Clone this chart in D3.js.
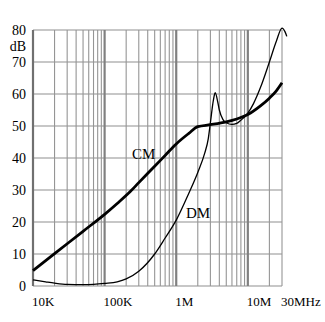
<!DOCTYPE html>
<html><head><meta charset="utf-8">
<script src="https://cdn.jsdelivr.net/npm/d3@7"></script>
<style>body{margin:0;background:#fff}svg{display:block}</style>
</head><body>
<script>
// Frequencies (Hz) and attenuation (dB)
const cmFreq = [1e4, 2e4, 5e4, 1e5, 1.5e5, 2.3e5, 3e5, 5e5, 7e5, 1e6, 1.5e6, 2e6, 3e6, 5e6, 7e6, 1e7, 1.5e7, 2e7, 2.5e7, 3e7];
const cmDb   = [4.8, 10.1, 17.1, 22.4, 25.8, 29.6, 32.3, 37.4, 40.8, 44.4, 47.7, 49.8, 50.4, 51.3, 52.2, 53.6, 56.3, 58.7, 61.0, 63.5];
const dmFreq = [1e4, 1.5e4, 2e4, 3e4, 5e4, 7e4, 1e5, 1.5e5, 2e5, 3e5, 5e5, 7e5, 1e6, 1.5e6, 2e6, 2.5e6, 2.8e6, 3e6, 3.3e6, 3.5e6, 3.8e6, 4e6, 4.5e6, 5e6, 6e6, 7e6, 8e6, 1e7, 1.2e7, 1.5e7, 2e7, 2.5e7, 3e7, 3.3e7, 3.5e7];
const dmDb   = [1.9, 1.3, 0.9, 0.5, 0.4, 0.5, 0.8, 1.3, 2.2, 4.6, 10, 15, 20.6, 29, 35.5, 41.5, 46, 51, 58, 60.4, 57.5, 55, 52, 51, 50.5, 50.8, 51.8, 54, 57, 62, 70, 76.5, 80.6, 79.5, 78];
const yTicks = [0, 10, 20, 30, 40, 50, 60, 70, 80];
const xTickVals = [1e4, 1e5, 1e6, 1e7, 3e7];
const xTickLabels = ["10K", "100K", "1M", "10M", "30MHz"];
const seriesLabels = ["CM", "DM"];

const W = 325, H = 322;
const svg = d3.select("body").append("svg").attr("width", W).attr("height", H);
const x = d3.scaleLog().domain([1e4, 3e7]).range([33, 282]);
const y = d3.scaleLinear().domain([0, 80]).range([286, 30]);

// grid
const minor = [];
for (let d = 1e4; d < 3e7; d *= 10) for (let k = 1; k <= 9; k++) { const v = d * k; if (v <= 3e7) minor.push(v); }
const g = svg.append("g");
g.selectAll("line.h").data(yTicks).join("line")
  .attr("x1", x(1e4)).attr("x2", x(3e7)).attr("y1", d => y(d)).attr("y2", d => y(d))
  .attr("stroke", "#8f8f8f").attr("stroke-width", 1);
g.selectAll("line.v").data(minor).join("line")
  .attr("x1", d => x(d)).attr("x2", d => x(d)).attr("y1", y(0)).attr("y2", y(80))
  .attr("stroke", d => [1e5, 1e6, 1e7].includes(d) ? "#808080" : (d === 1e4 ? "#707070" : "#959595"))
  .attr("stroke-width", d => [1e4, 1e5, 1e6, 1e7].includes(d) ? 2.2 : 1.1);

// axis labels
const font = "'Liberation Serif', 'DejaVu Serif', serif";
svg.selectAll("text.y").data(yTicks).join("text")
  .attr("x", 26).attr("y", d => y(d)).attr("dy", "0.36em").attr("text-anchor", "end")
  .attr("font-family", font).attr("font-size", 14).attr("fill", "#000").text(d => d);
svg.append("text").attr("x", 26).attr("y", 51).attr("text-anchor", "end")
  .attr("font-family", font).attr("font-size", 14).text("dB");
svg.selectAll("text.x").data(xTickVals).join("text")
  .attr("x", d => x(d) - 1).attr("y", 306)
  .attr("font-family", font).attr("font-size", 13).text((d, i) => xTickLabels[i]);

// curves
const line = d3.line().x(d => x(d[0])).y(d => y(d[1])).curve(d3.curveMonotoneX);
svg.append("path").datum(dmFreq.map((f, i) => [f, dmDb[i]]))
  .attr("d", line).attr("fill", "none").attr("stroke", "#000").attr("stroke-width", 1.3);
svg.append("path").datum(cmFreq.map((f, i) => [f, cmDb[i]]))
  .attr("d", line).attr("fill", "none").attr("stroke", "#000").attr("stroke-width", 2.8);

// series labels
svg.append("text").attr("x", 132).attr("y", 159).attr("font-family", font).attr("font-size", 15).text(seriesLabels[0]);
svg.append("text").attr("x", 186).attr("y", 218).attr("font-family", font).attr("font-size", 15).text(seriesLabels[1]);
</script>
</body></html>
